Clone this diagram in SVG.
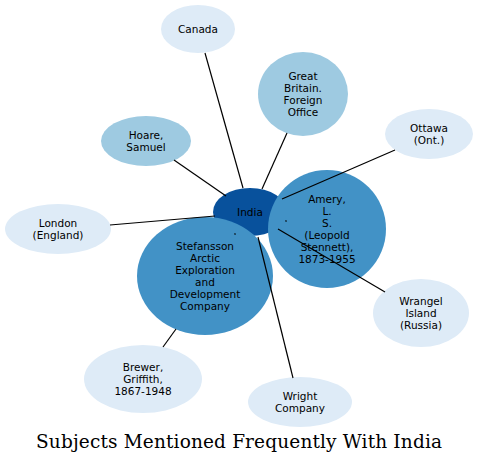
<svg xmlns="http://www.w3.org/2000/svg" width="479" height="463" viewBox="0 0 479 463">
<style>
.l{fill:#deebf7}.m{fill:#9ecae1}.h{fill:#4292c6}.d{fill:#08519c}
text{font-family:"DejaVu Sans",sans-serif;font-size:10.5px;text-anchor:middle;fill:#000}
.e line{stroke:#000;stroke-width:1.2}
.t{font-family:"DejaVu Serif","Liberation Serif",serif;font-size:18.5px}
</style>
<rect width="479" height="463" fill="#fff"/>
<g id="india"><ellipse class="d" cx="250" cy="212" rx="37" ry="24"/><text x="250" y="216">India</text></g>
<g id="amery"><ellipse class="h" cx="327" cy="229" rx="59" ry="59"/><text x="327" y="203">Amery,</text><text x="327" y="215">L.</text><text x="327" y="227">S.</text><text x="327" y="239">(Leopold</text><text x="327" y="251">Stennett),</text><text x="327" y="263">1873-1955</text></g>
<g id="stefansson"><ellipse class="h" cx="205" cy="276" rx="68" ry="59"/><text x="205" y="249.5">Stefansson</text><text x="205" y="261.5">Arctic</text><text x="205" y="273.5">Exploration</text><text x="205" y="285.5">and</text><text x="205" y="297.5">Development</text><text x="205" y="309.5">Company</text></g>
<g id="canada"><ellipse class="l" cx="198" cy="29" rx="37" ry="24"/><text x="198" y="32.5">Canada</text></g>
<g id="greatbritain"><ellipse class="m" cx="303" cy="94" rx="45" ry="42"/><text x="303" y="79.5">Great</text><text x="303" y="91.5">Britain.</text><text x="303" y="103.5">Foreign</text><text x="303" y="115.5">Office</text></g>
<g id="ottawa"><ellipse class="l" cx="429" cy="134" rx="44" ry="25"/><text x="429" y="131.5">Ottawa</text><text x="429" y="143.5">(Ont.)</text></g>
<g id="hoare"><ellipse class="m" cx="146" cy="141" rx="45" ry="25"/><text x="146" y="138.5">Hoare,</text><text x="146" y="150.5">Samuel</text></g>
<g id="london"><ellipse class="l" cx="58" cy="229" rx="53" ry="25"/><text x="58" y="226.5">London</text><text x="58" y="238.5">(England)</text></g>
<g id="wrangel"><ellipse class="l" cx="421" cy="313" rx="48" ry="34"/><text x="421" y="304.5">Wrangel</text><text x="421" y="316.5">Island</text><text x="421" y="328.5">(Russia)</text></g>
<g id="brewer"><ellipse class="l" cx="143" cy="379" rx="59" ry="34"/><text x="143" y="370.5">Brewer,</text><text x="143" y="382.5">Griffith,</text><text x="143" y="394.5">1867-1948</text></g>
<g id="wright"><ellipse class="l" cx="300" cy="402" rx="52" ry="25"/><text x="300" y="399.5">Wright</text><text x="300" y="411.5">Company</text></g>
<g id="connectors" class="e">
<line x1="205" y1="53" x2="243" y2="188"/>
<line x1="287" y1="133" x2="262" y2="189"/>
<line x1="174" y1="160" x2="226" y2="196"/>
<line x1="110" y1="225" x2="215" y2="216"/>
<line x1="395" y1="150" x2="282" y2="199"/>
<line x1="278" y1="229" x2="385" y2="292"/>
<line x1="258" y1="237" x2="293" y2="378"/>
<line x1="163" y1="347" x2="176" y2="329"/>
<line x1="285.5" y1="220.5" x2="286.5" y2="221.5"/>
<line x1="234.5" y1="233.5" x2="235.5" y2="234.5"/>
</g>
<text class="t" x="239" y="448" textLength="406" lengthAdjust="spacing">Subjects Mentioned Frequently With India</text>
</svg>
